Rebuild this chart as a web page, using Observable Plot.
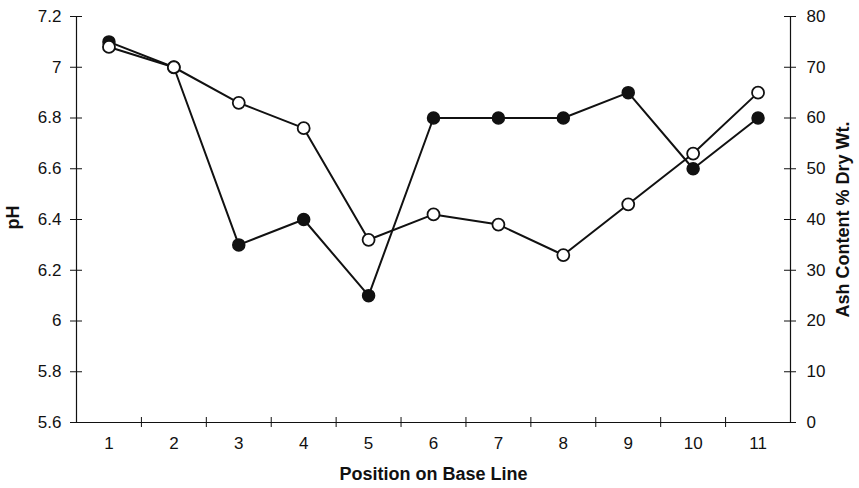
<!DOCTYPE html>
<html>
<head>
<meta charset="utf-8">
<script src="https://cdn.jsdelivr.net/npm/d3@7"></script>
<script src="https://cdn.jsdelivr.net/npm/@observablehq/plot@0.6"></script>
<style>
  html, body { margin: 0; padding: 0; background: #fff; }
  svg { display: block; }
</style>
</head>
<body>
<div id="chart"></div>
<script>
// Sampling positions along the base line
const positions = [1, 2, 3, 4, 5, 6, 7, 8, 9, 10, 11];
// Soil pH at each position (filled markers, left axis)
const phValues = [7.1, 7.0, 6.3, 6.4, 6.1, 6.8, 6.8, 6.8, 6.9, 6.6, 6.8];
// Ash content, % dry weight (open markers, right axis)
const ashValues = [74, 70, 63, 58, 36, 41, 39, 33, 43, 53, 65];
// Axis ticks
const phTicks = [5.6, 5.8, 6.0, 6.2, 6.4, 6.6, 6.8, 7.0, 7.2];
const phTickLabels = ["5.6", "5.8", "6", "6.2", "6.4", "6.6", "6.8", "7", "7.2"];
const ashTicks = [0, 10, 20, 30, 40, 50, 60, 70, 80];

// Both series share one plot; ash is mapped onto the pH range
const phMin = 5.6, phMax = 7.2, ashMax = 80;
const ashToPh = a => phMin + (a / ashMax) * (phMax - phMin);

const W = 859, H = 488;
const mL = 76, mR = 69, mT = 16, mB = 66;
const innerW = W - mL - mR, innerH = H - mT - mB;

const ph = positions.map((p, i) => ({pos: p, v: phValues[i]}));
const ash = positions.map((p, i) => ({pos: p, v: ashToPh(ashValues[i])}));
const boundaries = positions.slice(0, -1).map(p => p + 0.5);
const leftTicks = phTicks.map((t, i) => ({v: t, label: phTickLabels[i]}));
const rightTicks = ashTicks.map(a => ({v: ashToPh(a), label: String(a)}));

const ink = "#111";
const font = "Liberation Sans, Arial, Helvetica, sans-serif";
const tickFont = 17;
const titleFont = 18;

const chart = Plot.plot({
  width: W,
  height: H,
  marginLeft: mL,
  marginRight: mR,
  marginTop: mT,
  marginBottom: mB,
  style: {fontFamily: font, fontSize: "15px", color: ink, background: "#fff"},
  x: {domain: [0.5, 11.5], axis: null},
  y: {domain: [phMin, phMax], axis: null},
  marks: [
    // axis lines (no top border)
    Plot.ruleY([phMin], {stroke: ink, strokeWidth: 1.2}),
    Plot.ruleX([0.5, 11.5], {stroke: ink, strokeWidth: 1.2}),

    // left axis: ticks crossing the line, then labels
    Plot.tickY(leftTicks, {y: "v", insetRight: innerW - 12, dx: -6, stroke: ink, strokeWidth: 1}),
    Plot.text(leftTicks, {y: "v", text: "label", frameAnchor: "left", textAnchor: "end", dx: -15, fontSize: tickFont, fill: ink}),

    // right axis in ash units
    Plot.tickY(rightTicks, {y: "v", insetLeft: innerW - 12, dx: 6, stroke: ink, strokeWidth: 1}),
    Plot.text(rightTicks, {y: "v", text: "label", frameAnchor: "right", textAnchor: "start", dx: 16, fontSize: tickFont, fill: ink}),

    // bottom axis: ticks at category boundaries, labels at positions
    Plot.tickX(boundaries, {x: d => d, insetTop: innerH - 10, dy: 5, stroke: ink, strokeWidth: 1}),
    Plot.text(positions, {x: d => d, frameAnchor: "bottom", dy: 26, fontSize: tickFont, fill: ink}),

    // axis titles
    Plot.text(["pH"], {frameAnchor: "left", textAnchor: "middle", dx: -63, dy: -2, rotate: -90, fontWeight: "bold", fontSize: titleFont, fill: ink}),
    Plot.text(["Ash Content % Dry Wt."], {frameAnchor: "right", textAnchor: "middle", dx: 53, rotate: -90, fontWeight: "bold", fontSize: titleFont, fill: ink}),
    Plot.text(["Position on Base Line"], {frameAnchor: "bottom", dy: 57, fontWeight: "bold", fontSize: titleFont, fill: ink}),

    // pH series
    Plot.line(ph, {x: "pos", y: "v", stroke: ink, strokeWidth: 2}),
    Plot.dot(ph, {x: "pos", y: "v", r: 6, fill: ink, stroke: ink, strokeWidth: 1.5}),

    // ash series
    Plot.line(ash, {x: "pos", y: "v", stroke: ink, strokeWidth: 2}),
    Plot.dot(ash, {x: "pos", y: "v", r: 6, fill: "#fff", stroke: ink, strokeWidth: 1.8})
  ]
});

document.getElementById("chart").append(chart);
</script>
</body>
</html>
